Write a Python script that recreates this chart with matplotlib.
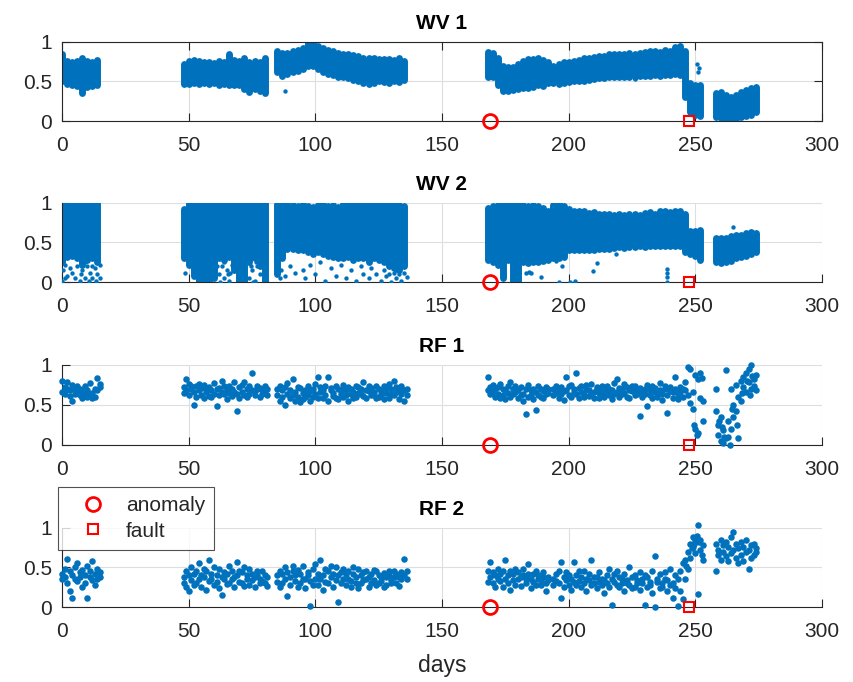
import numpy as np
import matplotlib
matplotlib.use("Agg")
import matplotlib.pyplot as plt

plt.rcParams['font.family'] = ['Liberation Sans', 'DejaVu Sans']

BLUE = '#0072BD'
AXC = '#262626'

# logged periods (days); wind vane bands read every 2 days, flow readings every day
rf_blocks = [(0, 15), (48, 81), (85, 136), (168, 192), (194, 253), (258, 274)]
wv_blocks = [(0, 14), (48, 80), (85, 135), (168, 192), (194, 252), (258, 274)]
rf_days = np.concatenate([np.arange(a, b + 1) for a, b in rf_blocks])
wv_days = np.concatenate([np.arange(a, b + 1, 2) for a, b in wv_blocks])

anomaly_day = 169
fault_day = 247.5

# WV 1: spread of the dense readings per 2-day step
wv1_lo = [0.50, 0.47, 0.46, 0.44, 0.36, 0.43, 0.44, 0.46,
          0.47, 0.47, 0.48, 0.47, 0.48, 0.47, 0.48, 0.46, 0.47, 0.46, 0.46, 0.45, 0.40, 0.37, 0.40, 0.38, 0.36,
          0.62, 0.57, 0.60, 0.62, 0.63, 0.66, 0.70, 0.70, 0.66, 0.62, 0.60, 0.58, 0.56, 0.56, 0.54, 0.52,
          0.50, 0.48, 0.47, 0.48, 0.50, 0.49, 0.48, 0.50, 0.49, 0.52,
          0.56, 0.55, 0.45, 0.38, 0.38, 0.39, 0.40, 0.42, 0.42, 0.43, 0.45, 0.44, 0.48,
          0.48, 0.47, 0.48, 0.49, 0.50, 0.50, 0.51, 0.52, 0.53, 0.54, 0.54, 0.55, 0.55, 0.56, 0.55,
          0.56, 0.55, 0.57, 0.57, 0.57, 0.58, 0.57, 0.58, 0.58, 0.59, 0.58, 0.30, 0.12, 0.08, 0.06,
          0.05, 0.04, 0.02, 0.00, 0.03, 0.05, 0.07, 0.08, 0.12]
wv1_hi = [0.84, 0.76, 0.74, 0.76, 0.80, 0.76, 0.75, 0.77,
          0.72, 0.76, 0.77, 0.76, 0.74, 0.75, 0.73, 0.76, 0.75, 0.84, 0.77, 0.76, 0.79, 0.74, 0.76, 0.75, 0.80,
          0.88, 0.86, 0.86, 0.88, 0.90, 0.92, 0.98, 1.00, 0.95, 0.92, 0.90, 0.88, 0.86, 0.85, 0.84, 0.83,
          0.82, 0.80, 0.79, 0.79, 0.78, 0.78, 0.78, 0.77, 0.79, 0.76,
          0.87, 0.86, 0.80, 0.70, 0.68, 0.68, 0.72, 0.76, 0.78, 0.78, 0.80, 0.77, 0.74,
          0.70, 0.72, 0.74, 0.75, 0.76, 0.77, 0.79, 0.80, 0.81, 0.82, 0.82, 0.84, 0.84, 0.85, 0.85,
          0.86, 0.85, 0.86, 0.87, 0.88, 0.88, 0.87, 0.90, 0.88, 0.93, 0.94, 0.88, 0.48, 0.45, 0.45,
          0.36, 0.37, 0.33, 0.31, 0.33, 0.37, 0.39, 0.42, 0.43]
wv1_out_day = [88, 226, 250.5, 251, 251.5]
wv1_out_val = [0.38, 0.53, 0.72, 0.62, 0.67]

# WV 2
wv2_lo = [0.25, 0.32, 0.33, 0.30, 0.22, 0.28, 0.30, 0.25,
          0.30, 0.22, 0.08, 0.00, 0.00, 0.00, 0.05, 0.30, 0.28, 0.32, 0.15, 0.00, 0.00, 0.25, 0.30, 0.20, 0.00,
          0.10, 0.30, 0.42, 0.42, 0.40, 0.40, 0.38, 0.36, 0.38, 0.35, 0.33, 0.32, 0.30, 0.30, 0.32, 0.28,
          0.30, 0.30, 0.26, 0.30, 0.28, 0.25, 0.20, 0.18, 0.15, 0.20,
          0.28, 0.25, 0.22, 0.05, 0.28, 0.00, 0.02, 0.25, 0.24, 0.26, 0.26, 0.27, 0.28,
          0.30, 0.30, 0.32, 0.40, 0.40, 0.40, 0.40, 0.41, 0.40, 0.42, 0.42, 0.42, 0.43, 0.44, 0.43,
          0.44, 0.44, 0.45, 0.44, 0.45, 0.46, 0.46, 0.45, 0.46, 0.46, 0.46, 0.38, 0.36, 0.33, 0.28,
          0.26, 0.24, 0.25, 0.27, 0.30, 0.32, 0.33, 0.35, 0.38]
wv2_hi = [1.00, 0.98, 0.99, 0.99, 0.99, 1.00, 0.99, 1.00,
          0.92, 1.00, 1.00, 1.00, 1.00, 1.00, 1.00, 1.00, 1.00, 1.00, 1.00, 1.00, 1.00, 1.00, 1.00, 1.00, 1.00,
          0.98, 1.00, 0.98, 0.97, 0.96, 0.98, 0.96, 0.95, 0.97, 0.98, 0.96, 0.97, 0.95, 0.98, 0.99, 0.98,
          1.00, 0.99, 0.98, 1.00, 0.99, 1.00, 0.99, 0.98, 0.97, 0.96,
          0.93, 0.96, 0.97, 0.97, 0.98, 1.00, 1.00, 0.97, 0.96, 0.97, 0.96, 0.93, 0.90,
          0.97, 0.99, 0.96, 0.92, 0.90, 0.89, 0.90, 0.87, 0.88, 0.86, 0.86, 0.86, 0.85, 0.86, 0.85,
          0.86, 0.86, 0.85, 0.87, 0.88, 0.86, 0.89, 0.90, 0.88, 0.90, 0.89, 0.86, 0.64, 0.64, 0.66,
          0.56, 0.55, 0.56, 0.58, 0.60, 0.60, 0.62, 0.63, 0.62]
wv2_out_day = [0, 0.5, 1, 1, 2, 3, 4, 5, 6, 7, 7.5, 8, 9, 9, 10, 10.5, 11, 12, 12, 13, 13.5, 14, 15, 15,
               48.5, 61, 62, 62.5, 63, 64, 64, 65, 65.5, 66, 66.5, 67, 74, 74.5, 75, 75.5, 76, 76.5, 77, 78,
               86, 86.5, 88, 90, 92, 95, 96, 98, 100, 102, 104, 106, 108, 110, 112, 114, 116, 118, 119,
               121, 122, 124, 126, 127, 128, 129, 130, 131, 132, 132, 133, 134, 135, 136,
               183, 184.5, 185, 189,
               195, 196, 197.5, 200.5, 202.5, 209.5, 211, 218.7, 239, 239, 239, 239,
               265]
wv2_out_val = [0.02, 0.15, 0.22, 0.05, 0.08, 0.18, 0.12, 0.05, 0.20, 0.02, 0.10, 0.15, 0.05, 0.25, 0.20,
               0.02, 0.12, 0.05, 0.20, 0.18, 0.02, 0.10, 0.05, 0.22,
               0.12, 0.20, 0.10, 0.00, 0.20, 0.05, 0.25, 0.15, 0.10, 0.02, 0.12, 0.22, 0.05, 0.20, 0.15,
               0.00, 0.02, 0.25, 0.20, 0.10,
               0.05, 0.15, 0.08, 0.20, 0.12, 0.15, 0.05, 0.22, 0.10, 0.25, 0.02, 0.18, 0.08, 0.22, 0.05,
               0.15, 0.02, 0.20, 0.10, 0.05, 0.18, 0.10, 0.02, 0.15, 0.08, 0.10, 0.00, 0.12, 0.05, 0.15,
               0.10, 0.02, 0.12, 0.06,
               0.12, 0.13, 0.11, 0.07,
               0.27, 0.00, 0.21, 0.00, 0.01, 0.14, 0.24, 0.36, 0.17, 0.07, 0.00, 0.12,
               0.70]

# RF 1: two readings per day
rf1_a = [0.80, 0.72, 0.78, 0.68, 0.75, 0.70, 0.66, 0.62, 0.68, 0.74, 0.60, 0.77, 0.65, 0.70, 0.84, 0.76,
         0.72, 0.83, 0.76, 0.70, 0.50, 0.73, 0.68, 0.62, 0.75, 0.66, 0.72, 0.60, 0.77, 0.48, 0.71, 0.80, 0.63,
         0.69, 0.74, 0.61, 0.78, 0.42, 0.72, 0.66, 0.79, 0.70, 0.64, 0.90, 0.67, 0.74, 0.60, 0.69, 0.65, 0.70,
         0.62, 0.55, 0.68, 0.50, 0.64, 0.58, 0.83, 0.66, 0.60, 0.71, 0.57, 0.68, 0.62, 0.55, 0.70, 0.63, 0.85,
         0.66, 0.59, 0.74, 0.85, 0.68, 0.61, 0.73, 0.57, 0.69, 0.75, 0.62, 0.55, 0.70, 0.66, 0.60, 0.72, 0.64,
         0.78, 0.58, 0.67, 0.71, 0.62, 0.74, 0.60, 0.68, 0.73, 0.65, 0.59, 0.70, 0.80, 0.66, 0.57, 0.74, 0.55, 0.70,
         0.85, 0.72, 0.66, 0.70, 0.64, 0.76, 0.62, 0.68, 0.73, 0.60, 0.70, 0.66, 0.58, 0.72, 0.64, 0.38, 0.75,
         0.62, 0.70, 0.44, 0.73, 0.60, 0.67, 0.72, 0.65,
         0.70, 0.65, 0.58, 0.72, 0.67, 0.85, 0.62, 0.75, 0.66, 0.90, 0.58, 0.73, 0.64, 0.70, 0.61, 0.76, 0.66,
         0.72, 0.59, 0.69, 0.64, 0.74, 0.62, 0.68, 0.77, 0.83, 0.60, 0.70, 0.65, 0.72, 0.58, 0.67, 0.74, 0.63,
         0.36, 0.66, 0.70, 0.48, 0.62, 0.73, 0.66, 0.60, 0.77, 0.64, 0.70, 0.40, 0.67, 0.59, 0.85, 0.63, 0.72,
         0.60, 0.68, 0.98, 0.95, 0.45, 0.20, 0.82, 0.58, 0.55,
         0.42, 0.25, 0.35, 0.18, 0.94, 0.10, 0.70, 0.50, 0.75, 0.08, 0.80, 0.72, 0.90, 0.78, 1.00, 0.82, 0.68]
rf1_b = [0.66, 0.63, 0.70, 0.61, 0.55, 0.64, 0.73, 0.70, 0.58, 0.63, 0.69, 0.62, 0.58, 0.60, 0.68, 0.72,
         0.65, 0.68, 0.62, 0.74, 0.66, 0.60, 0.76, 0.71, 0.58, 0.70, 0.61, 0.68, 0.64, 0.70, 0.62, 0.66, 0.73,
         0.57, 0.65, 0.70, 0.66, 0.63, 0.58, 0.75, 0.62, 0.60, 0.73, 0.68, 0.62, 0.70, 0.71, 0.64, 0.73, 0.62,
         0.70, 0.74, 0.60, 0.72, 0.77, 0.69, 0.62, 0.55, 0.72, 0.53, 0.65, 0.60, 0.74, 0.67, 0.60, 0.76, 0.58,
         0.72, 0.68, 0.62, 0.55, 0.71, 0.65, 0.58, 0.70, 0.64, 0.60, 0.68, 0.72, 0.63, 0.58, 0.74, 0.65, 0.70,
         0.61, 0.69, 0.73, 0.62, 0.66, 0.59, 0.70, 0.63, 0.57, 0.71, 0.76, 0.64, 0.62, 0.72, 0.69, 0.63, 0.68, 0.62,
         0.68, 0.63, 0.75, 0.60, 0.72, 0.58, 0.70, 0.57, 0.65, 0.78, 0.63, 0.74, 0.69, 0.62, 0.55, 0.70, 0.60,
         0.68, 0.57, 0.66, 0.62, 0.70, 0.58, 0.64, 0.70,
         0.62, 0.74, 0.70, 0.64, 0.56, 0.69, 0.73, 0.60, 0.70, 0.63, 0.71, 0.66, 0.60, 0.75, 0.68, 0.63, 0.58,
         0.70, 0.65, 0.74, 0.60, 0.68, 0.70, 0.57, 0.64, 0.66, 0.71, 0.63, 0.76, 0.60, 0.68, 0.73, 0.62, 0.69,
         0.71, 0.60, 0.64, 0.75, 0.69, 0.58, 0.71, 0.64, 0.68, 0.56, 0.73, 0.62, 0.72, 0.66, 0.70, 0.57, 0.66,
         0.70, 0.78, 0.62, 0.52, 0.66, 0.88, 0.14, 0.90, 0.30,
         0.70, 0.12, 0.05, 0.02, 0.08, 0.30, 0.20, 0.35, 0.42, 0.60, 0.55, 0.85, 0.66, 0.95, 0.70, 0.74, 0.88]
rf1_x_day = [249.5, 250.5, 252.5, 259.5, 260.5, 261.5, 263.5, 264.5, 266.5, 268.5, 270.5, 271.5, 272.5]
rf1_x_val = [0.24, 0.12, 0.84, 0.30, 0.22, 0.10, 0.00, 0.45, 0.25, 0.65, 0.80, 0.62, 0.86]

# RF 2
rf2_a = [0.42, 0.38, 0.61, 0.45, 0.12, 0.50, 0.33, 0.44, 0.25, 0.40, 0.12, 0.46, 0.58, 0.42, 0.36, 0.44,
         0.38, 0.45, 0.20, 0.34, 0.42, 0.30, 0.55, 0.26, 0.38, 0.45, 0.59, 0.36, 0.28, 0.40, 0.48, 0.15, 0.35,
         0.42, 0.30, 0.46, 0.38, 0.57, 0.32, 0.44, 0.27, 0.40, 0.48, 0.34, 0.25, 0.41, 0.36, 0.45, 0.30, 0.38,
         0.40, 0.46, 0.30, 0.50, 0.14, 0.38, 0.45, 0.33, 0.26, 0.42, 0.52, 0.35, 0.44, 0.01, 0.48, 0.36, 0.28,
         0.59, 0.40, 0.32, 0.46, 0.38, 0.25, 0.50, 0.07, 0.44, 0.36, 0.28, 0.46, 0.33, 0.42, 0.38, 0.48, 0.30,
         0.44, 0.36, 0.26, 0.42, 0.34, 0.45, 0.30, 0.38, 0.43, 0.28, 0.40, 0.34, 0.46, 0.30, 0.38, 0.44, 0.61, 0.36,
         0.45, 0.57, 0.30, 0.40, 0.48, 0.33, 0.25, 0.59, 0.40, 0.46, 0.34, 0.28, 0.44, 0.38, 0.48, 0.30, 0.54,
         0.36, 0.42, 0.28, 0.40, 0.34, 0.44, 0.30, 0.38,
         0.36, 0.42, 0.30, 0.57, 0.38, 0.44, 0.28, 0.36, 0.57, 0.40, 0.33, 0.26, 0.45, 0.35, 0.42, 0.59, 0.30,
         0.38, 0.44, 0.28, 0.34, 0.40, 0.48, 0.03, 0.32, 0.46, 0.25, 0.36, 0.42, 0.30, 0.50, 0.38, 0.26, 0.34,
         0.44, 0.30, 0.03, 0.38, 0.28, 0.46, 0.65, 0.32, 0.42, 0.26, 0.36, 0.20, 0.48, 0.30, 0.40, 0.02, 0.46,
         0.56, 0.60, 0.70, 0.80, 0.76, 0.85, 1.03, 0.84, 0.60,
         0.80, 0.72, 0.85, 0.70, 0.64, 0.76, 0.88, 0.95, 0.62, 0.74, 0.82, 0.58, 0.70, 0.48, 0.78, 0.66, 0.74]
rf2_b = [0.35, 0.48, 0.30, 0.20, 0.40, 0.36, 0.55, 0.38, 0.47, 0.30, 0.52, 0.38, 0.34, 0.28, 0.48, 0.38,
         0.30, 0.25, 0.40, 0.50, 0.28, 0.45, 0.35, 0.40, 0.48, 0.22, 0.33, 0.42, 0.50, 0.32, 0.24, 0.38, 0.44,
         0.29, 0.52, 0.36, 0.26, 0.40, 0.45, 0.30, 0.50, 0.35, 0.28, 0.42, 0.38, 0.46, 0.30, 0.33, 0.40, 0.27,
         0.32, 0.25, 0.42, 0.36, 0.44, 0.28, 0.52, 0.40, 0.47, 0.30, 0.36, 0.24, 0.40, 0.33, 0.28, 0.54, 0.42,
         0.35, 0.22, 0.48, 0.30, 0.52, 0.42, 0.34, 0.40, 0.30, 0.48, 0.42, 0.35, 0.26, 0.50, 0.30, 0.24, 0.40,
         0.34, 0.45, 0.38, 0.30, 0.47, 0.28, 0.40, 0.33, 0.25, 0.38, 0.46, 0.30, 0.38, 0.42, 0.27, 0.35, 0.40, 0.45,
         0.32, 0.38, 0.44, 0.26, 0.35, 0.42, 0.46, 0.36, 0.30, 0.22, 0.42, 0.48, 0.36, 0.27, 0.40, 0.35, 0.42,
         0.24, 0.32, 0.45, 0.36, 0.28, 0.38, 0.20, 0.34,
         0.28, 0.33, 0.45, 0.12, 0.26, 0.34, 0.40, 0.22, 0.32, 0.28, 0.45, 0.38, 0.30, 0.20, 0.34, 0.28, 0.38,
         0.24, 0.32, 0.36, 0.18, 0.30, 0.26, 0.36, 0.42, 0.28, 0.38, 0.30, 0.20, 0.34, 0.28, 0.24, 0.40, 0.30,
         0.22, 0.36, 0.40, 0.26, 0.32, 0.18, 0.00, 0.36, 0.24, 0.30, 0.44, 0.34, 0.28, 0.12, 0.24, 0.35, 0.20,
         0.10, 0.35, 0.48, 0.62, 0.88, 0.68, 0.16, 0.72, 0.78,
         0.46, 0.66, 0.60, 0.78, 0.82, 0.58, 0.68, 0.72, 0.80, 0.55, 0.66, 0.76, 0.84, 0.72, 0.62, 0.80, 0.70]
rf2_x_day = [246.5, 248.5, 249.5, 250.5, 251.5, 252.5]
rf2_x_val = [0.52, 0.74, 0.80, 0.90, 0.82, 0.66]

for arr in (wv1_lo, wv1_hi, wv2_lo, wv2_hi):
    assert len(arr) == len(wv_days), len(arr)
for arr in (rf1_a, rf1_b, rf2_a, rf2_b):
    assert len(arr) == len(rf_days), len(arr)

fig = plt.figure(figsize=(8.54, 6.82), dpi=100)
left, width, height = 62 / 854, 760 / 854, 79.5 / 682
tops = [41.7, 202.7, 365.0, 527.7]
axes = [fig.add_axes([left, 1 - (t + 79.5) / 682, width, height]) for t in tops]
titles = ['WV 1', 'WV 2', 'RF 1', 'RF 2']

for i, ax in enumerate(axes):
    ax.set_xlim(0, 300)
    ax.set_ylim(0, 1)
    ax.set_xticks(range(0, 301, 50))
    ax.set_yticks([0, 0.5, 1])
    ax.set_yticklabels(['0', '0.5', '1'])
    ax.grid(True, color='#dedede', lw=0.8)
    ax.set_axisbelow(True)
    ax.tick_params(direction='in', length=5.5, width=0.8, colors=AXC, labelsize=15)
    ax.tick_params(axis='x', pad=11)
    ax.tick_params(axis='y', pad=7)
    for s in ax.spines.values():
        s.set_color(AXC)
        s.set_linewidth(0.8)
    if i == 0:
        ax.tick_params(top=True, right=True)
    else:
        ax.spines['top'].set_visible(False)
        ax.spines['right'].set_visible(False)
    ax.set_title(titles[i], fontsize=15, fontweight='bold', pad=9)

# dense wind vane readings: daily spread plus the isolated readings
for ax, lo, hi, od, ov in [(axes[0], wv1_lo, wv1_hi, wv1_out_day, wv1_out_val),
                           (axes[1], wv2_lo, wv2_hi, wv2_out_day, wv2_out_val)]:
    lc = ax.vlines(wv_days, lo, hi, colors=BLUE, lw=5.0, zorder=2)
    lc.set_capstyle('round')
    ax.scatter(od, ov, s=10, c=BLUE, linewidths=0, zorder=3)

for ax, a, b, xd, xv in [(axes[2], rf1_a, rf1_b, rf1_x_day, rf1_x_val),
                         (axes[3], rf2_a, rf2_b, rf2_x_day, rf2_x_val)]:
    ax.scatter(np.r_[rf_days, rf_days, xd], np.r_[a, b, xv], s=22, c=BLUE,
               linewidths=0, zorder=3, clip_on=False)

for ax in axes:
    ax.plot([anomaly_day], [0], 'o', ms=10, mfc='none', mec='red', mew=2.0,
            clip_on=False, zorder=6, label='anomaly')
    ax.plot([fault_day], [0], 's', ms=7, mfc='none', mec='red', mew=1.5,
            clip_on=False, zorder=6, label='fault')

axes[3].set_xlabel('days', fontsize=16.5, color=AXC, labelpad=9)

leg = axes[3].legend(loc='upper left', bbox_to_anchor=(58 / 854, 1 - 487 / 682),
                     bbox_transform=fig.transFigure, fontsize=15, frameon=True,
                     fancybox=False, borderaxespad=0, borderpad=0.45, labelspacing=0.3,
                     handlelength=2.5, handletextpad=0.3)
leg.get_frame().set_edgecolor(AXC)
leg.get_frame().set_linewidth(0.8)
for t in leg.get_texts():
    t.set_color(AXC)

fig.savefig('out.png', dpi=100, facecolor='white')
